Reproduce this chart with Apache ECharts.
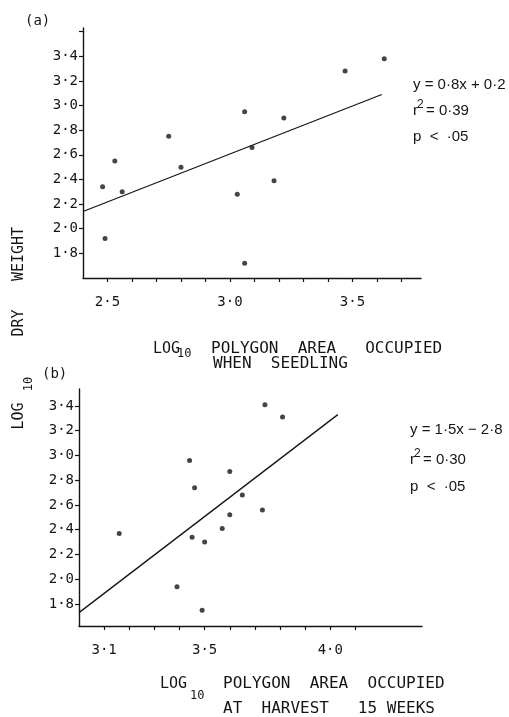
<!DOCTYPE html>
<html>
<head>
<meta charset="utf-8">
<script src="https://cdn.jsdelivr.net/npm/echarts@6/dist/echarts.min.js"></script>
<style>
	html, body { margin: 0; padding: 0; background: #fff; }
	#chart { width: 509px; height: 717px; }
</style>
</head>
<body>
<div id="chart"></div>
<script>
	// (a) log10 polygon area when seedling vs log10 dry weight
	var seedlingArea = [2.48, 2.49, 2.53, 2.56, 2.75, 2.80, 3.03, 3.06, 3.06, 3.09, 3.18, 3.22, 3.47, 3.63];
	var seedlingWeight = [2.34, 1.92, 2.55, 2.30, 2.75, 2.50, 2.28, 2.95, 1.72, 2.66, 2.39, 2.90, 3.28, 3.38];
	var seedlingFit = [[2.40, 2.14], [3.62, 3.09]];

	// (b) log10 polygon area at harvest vs log10 dry weight
	var harvestArea = [3.16, 3.39, 3.44, 3.45, 3.46, 3.49, 3.50, 3.57, 3.60, 3.60, 3.65, 3.73, 3.74, 3.81];
	var harvestWeight = [2.37, 1.94, 2.96, 2.34, 2.74, 1.75, 2.30, 2.41, 2.87, 2.52, 2.68, 2.56, 3.41, 3.31];
	var harvestFit = [[3.00, 1.73], [4.03, 3.33]];

	// ticks and labels
	var yTicksA = [1.8, 2.0, 2.2, 2.4, 2.6, 2.8, 3.0, 3.2, 3.4, 3.6];
	var yTicksB = [1.8, 2.0, 2.2, 2.4, 2.6, 2.8, 3.0, 3.2, 3.4];
	var yLabels = [1.8, 2.0, 2.2, 2.4, 2.6, 2.8, 3.0, 3.2, 3.4];
	var xTicksA = [2.5, 2.6, 2.7, 2.8, 2.9, 3.0, 3.1, 3.2, 3.3, 3.4, 3.5, 3.6, 3.7];
	var xLabelsA = [2.5, 3.0, 3.5];
	var xTicksB = [3.1, 3.2, 3.3, 3.4, 3.5, 3.6, 3.7, 3.8, 3.9, 4.0, 4.1];
	var xLabelsB = [3.1, 3.5, 4.0];

	var INK = '#151515';
	var MONO = '"DejaVu Sans Mono", monospace';
	var SANS = '"Liberation Sans", Arial, sans-serif';

	function dotNumber(v) {
		return v.toFixed(1).replace('.', '·');
	}

	function zip(xs, ys) {
		return xs.map(function (x, i) { return [x, ys[i]]; });
	}

	function makeXAxis(grid, min, max, ticks, labels) {
		return {
			type: 'value', gridIndex: grid, min: min, max: max,
			axisLine: { show: true, lineStyle: { color: INK, width: 1.4 } },
			axisTick: { show: true, inside: false, length: 4, customValues: ticks, lineStyle: { color: INK, width: 1.2 } },
			axisLabel: { customValues: labels, margin: 17, color: INK, fontFamily: MONO, fontSize: 14, formatter: dotNumber },
			splitLine: { show: false }
		};
	}

	function makeYAxis(grid, min, max, ticks) {
		return {
			type: 'value', gridIndex: grid, min: min, max: max,
			axisLine: { show: true, lineStyle: { color: INK, width: 1.4 } },
			axisTick: { show: true, inside: false, length: 4, customValues: ticks, lineStyle: { color: INK, width: 1.2 } },
			axisLabel: { customValues: yLabels, margin: 5, color: INK, fontFamily: MONO, fontSize: 14, formatter: dotNumber },
			splitLine: { show: false }
		};
	}

	function txt(x, y, text, size, font, extra) {
		var el = {
			type: 'text', x: x, y: y, silent: true,
			style: { text: text, fill: INK, font: size + 'px ' + font, align: 'left', verticalAlign: 'middle' }
		};
		if (extra) {
			for (var k in extra) { el[k] = extra[k]; }
		}
		return el;
	}

	function vtxt(x, y, text, size) {
		var el = txt(x, y, text, size, MONO, { rotation: Math.PI / 2 });
		el.style.align = 'center';
		return el;
	}

	var chart = echarts.init(document.getElementById('chart'), null, { renderer: 'canvas' });

	chart.setOption({
		animation: false,
		backgroundColor: '#fff',
		grid: [
			{ left: 83, top: 28, width: 338, height: 250, containLabel: false, outerBoundsMode: 'none' },
			{ left: 79, top: 389, width: 343, height: 237, containLabel: false, outerBoundsMode: 'none' }
		],
		xAxis: [
			makeXAxis(0, 2.4, 3.78, xTicksA, xLabelsA),
			makeXAxis(1, 3.0, 4.365, xTicksB, xLabelsB)
		],
		yAxis: [
			makeYAxis(0, 1.6, 3.63, yTicksA),
			makeYAxis(1, 1.622, 3.537, yTicksB)
		],
		series: [
			{ type: 'scatter', xAxisIndex: 0, yAxisIndex: 0, data: zip(seedlingArea, seedlingWeight), symbolSize: 5, itemStyle: { color: INK } },
			{ type: 'line', xAxisIndex: 0, yAxisIndex: 0, data: seedlingFit, symbol: 'none', lineStyle: { color: INK, width: 1.3 } },
			{ type: 'scatter', xAxisIndex: 1, yAxisIndex: 1, data: zip(harvestArea, harvestWeight), symbolSize: 5, itemStyle: { color: INK } },
			{ type: 'line', xAxisIndex: 1, yAxisIndex: 1, data: harvestFit, symbol: 'none', lineStyle: { color: INK, width: 1.3 } }
		],
		graphic: [
			txt(25, 21, '(a)', 14, MONO),
			txt(42, 374, '(b)', 14, MONO),

			// regression stats (a)
			txt(413, 85, 'y = 0·8x + 0·2', 15, SANS),
			txt(413, 111, 'r', 15, SANS),
			txt(417, 105, '2', 12, SANS),
			txt(426, 111, '= 0·39', 15, SANS),
			txt(413, 137, 'p  <  ·05', 15, SANS),

			// regression stats (b)
			txt(410, 430, 'y = 1·5x − 2·8', 15, SANS),
			txt(410, 460, 'r', 15, SANS),
			txt(414, 454, '2', 12, SANS),
			txt(423, 460, '= 0·30', 15, SANS),
			txt(410, 487, 'p  <  ·05', 15, SANS),

			// x axis titles
			txt(153, 349, 'LOG', 15, MONO),
			txt(177, 354, '10', 12, MONO),
			txt(211, 349, 'POLYGON  AREA   OCCUPIED', 16, MONO),
			txt(213, 363.5, 'WHEN  SEEDLING', 16, MONO),

			txt(160, 684, 'LOG', 15, MONO),
			txt(190, 696, '10', 12, MONO),
			txt(223, 684, 'POLYGON  AREA  OCCUPIED', 16, MONO),
			txt(223, 709, 'AT  HARVEST   15 WEEKS', 16, MONO),

			// shared y axis title
			vtxt(19, 254, 'WEIGHT', 15),
			vtxt(19, 323, 'DRY', 15),
			vtxt(19, 416, 'LOG', 15),
			vtxt(29, 384, '10', 12)
		]
	});
</script>
</body>
</html>
